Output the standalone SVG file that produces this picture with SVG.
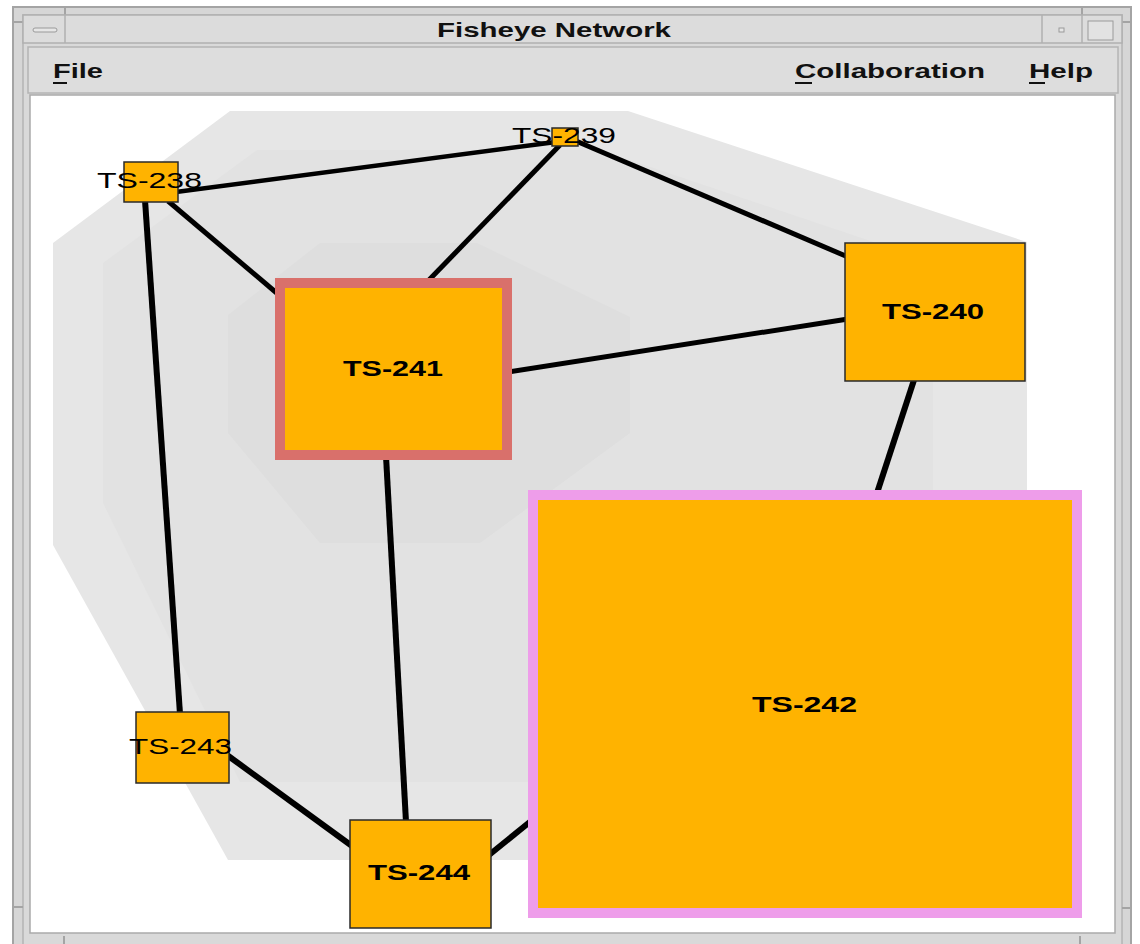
<svg xmlns="http://www.w3.org/2000/svg" width="1140" height="944" viewBox="0 0 1140 944">
  <style>
    .frame { fill: #d6d6d6; stroke: #a4a4a4; stroke-width: 2; }
    .bar { fill: #dcdcdc; stroke: #b0b0b0; stroke-width: 1.5; }
    .tick { stroke: #a4a4a4; stroke-width: 2; fill: none; }
    .menu { font-family: "Liberation Sans", Arial, sans-serif; font-size: 21px; font-weight: bold; fill: #111; }
    .title { font-family: "Liberation Sans", Arial, sans-serif; font-size: 20px; font-weight: bold; fill: #111; }
    .ul { fill: #111; }
    .edge { stroke: #000; fill: none; stroke-linecap: butt; }
    .box { fill: #FFB300; stroke: #2a2a2a; stroke-width: 1.5; }
    .lbl { font-family: "Liberation Sans", Arial, sans-serif; font-size: 22px; fill: #000; }
    .bold { font-weight: bold; }
  </style>

  <rect x="0" y="0" width="1140" height="944" fill="#ffffff"/>

  <!-- window frame -->
  <g id="window">
    <rect class="frame" x="13" y="7" width="1118" height="950"/>
    <rect x="23" y="15" width="1099" height="940" fill="#d9d9d9" stroke="#b4b4b4" stroke-width="1.5"/>
    <!-- resize corner ticks -->
    <line class="tick" x1="65" y1="7" x2="65" y2="15"/>
    <line class="tick" x1="1082" y1="7" x2="1082" y2="15"/>
    <line class="tick" x1="13" y1="22" x2="23" y2="22"/>
    <line class="tick" x1="1122" y1="22" x2="1131" y2="22"/>
    <line class="tick" x1="13" y1="907" x2="23" y2="907"/>
    <line class="tick" x1="1122" y1="908" x2="1131" y2="908"/>
    <line class="tick" x1="64" y1="936" x2="64" y2="944"/>
    <line class="tick" x1="1080" y1="936" x2="1080" y2="944"/>

    <!-- title bar -->
    <rect class="bar" x="23" y="15" width="1099" height="28"/>
    <line x1="65" y1="15" x2="65" y2="43" stroke="#b0b0b0" stroke-width="1.5"/>
    <line x1="1042" y1="15" x2="1042" y2="43" stroke="#b0b0b0" stroke-width="1.5"/>
    <line x1="1082" y1="15" x2="1082" y2="43" stroke="#b0b0b0" stroke-width="1.5"/>
    <rect x="33" y="28" width="24" height="4" rx="2" fill="#e6e6e6" stroke="#9a9a9a" stroke-width="1"/>
    <rect x="1059" y="28" width="5" height="4" fill="#e6e6e6" stroke="#9a9a9a" stroke-width="1"/>
    <rect x="1088" y="21" width="25" height="19" fill="#e2e2e2" stroke="#9a9a9a" stroke-width="1"/>
    <text class="title" x="437" y="37" textLength="234" lengthAdjust="spacingAndGlyphs">Fisheye Network</text>

    <!-- menu bar -->
    <rect x="28" y="47" width="1090" height="46" fill="#dddddd" stroke="#b4b4b4" stroke-width="1.5"/>
    <text class="menu" x="53" y="78" textLength="50" lengthAdjust="spacingAndGlyphs">File</text>
    <rect class="ul" x="53" y="82" width="14" height="2"/>
    <text class="menu" x="795" y="78" textLength="190" lengthAdjust="spacingAndGlyphs">Collaboration</text>
    <rect class="ul" x="795" y="82" width="17" height="2"/>
    <text class="menu" x="1029" y="78" textLength="64" lengthAdjust="spacingAndGlyphs">Help</text>
    <rect class="ul" x="1029" y="82" width="16" height="2"/>

    <!-- drawing canvas -->
    <rect x="30" y="95" width="1085" height="838" fill="#ffffff" stroke="#aaaaaa" stroke-width="1.5"/>
  </g>

  <!-- fisheye focus regions -->
  <g id="focus-regions">
    <polygon fill="#e6e6e6" points="230,111 628,111 1027,242 1027,860 228,860 53,545 53,243"/>
    <polygon fill="#e2e2e2" points="257,150 600,150 933,262 933,782 240,782 103,503 103,263"/>
    <polygon fill="#dedede" points="320,243 477,243 630,317 630,433 480,543 320,543 228,433 228,315"/>
  </g>

  <!-- connectors -->
  <g id="connectors">
    <line class="edge" stroke-width="4.5" x1="176" y1="192" x2="556" y2="142"/>
    <line class="edge" stroke-width="5" x1="168" y1="201" x2="279" y2="295"/>
    <line class="edge" stroke-width="6" x1="145" y1="200" x2="180" y2="714"/>
    <line class="edge" stroke-width="5" x1="560" y1="145" x2="428" y2="281"/>
    <line class="edge" stroke-width="5" x1="576" y1="141" x2="848" y2="257"/>
    <line class="edge" stroke-width="5" x1="508" y1="372" x2="848" y2="319"/>
    <line class="edge" stroke-width="6" x1="914" y1="380" x2="877" y2="493"/>
    <line class="edge" stroke-width="6" x1="386" y1="456" x2="406" y2="822"/>
    <line class="edge" stroke-width="6" x1="227" y1="755" x2="352" y2="846"/>
    <line class="edge" stroke-width="6" x1="489" y1="855" x2="531" y2="821"/>
  </g>

  <!-- nodes -->
  <g id="ts-238">
    <rect class="box" x="124" y="162" width="54" height="40"/>
    <text class="lbl" x="97" y="188" textLength="105" lengthAdjust="spacingAndGlyphs">TS-238</text>
  </g>
  <g id="ts-239">
    <rect class="box" x="552" y="128" width="26" height="18"/>
    <text class="lbl" x="512" y="143" textLength="104" lengthAdjust="spacingAndGlyphs">TS-239</text>
  </g>
  <g id="ts-240">
    <rect class="box" x="845" y="243" width="180" height="138"/>
    <text class="lbl bold" x="882" y="319" textLength="102" lengthAdjust="spacingAndGlyphs">TS-240</text>
  </g>
  <g id="ts-241">
    <rect x="280" y="283" width="227" height="172" fill="#FFB300" stroke="#D9706B" stroke-width="10"/>
    <text class="lbl bold" x="343" y="376" textLength="100" lengthAdjust="spacingAndGlyphs">TS-241</text>
  </g>
  <g id="ts-242">
    <rect x="533" y="495" width="544" height="418" fill="#FFB300" stroke="#EE9DEA" stroke-width="10"/>
    <text class="lbl bold" x="752" y="712" textLength="105" lengthAdjust="spacingAndGlyphs">TS-242</text>
  </g>
  <g id="ts-243">
    <rect class="box" x="136" y="712" width="93" height="71"/>
    <text class="lbl" x="129" y="754" textLength="103" lengthAdjust="spacingAndGlyphs">TS-243</text>
  </g>
  <g id="ts-244">
    <rect class="box" x="350" y="820" width="141" height="108"/>
    <text class="lbl bold" x="368" y="880" textLength="102" lengthAdjust="spacingAndGlyphs">TS-244</text>
  </g>
</svg>
